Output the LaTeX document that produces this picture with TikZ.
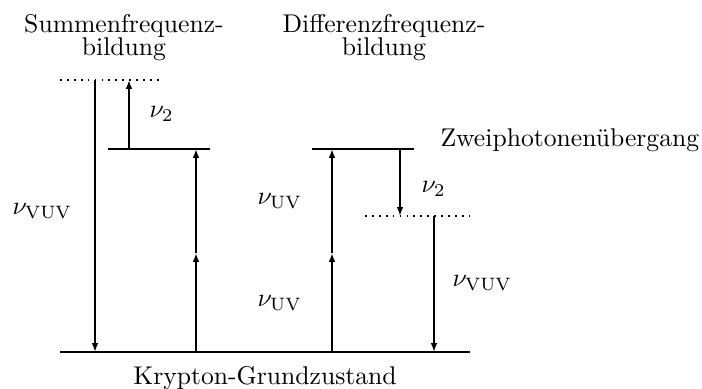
\documentclass[tikz,border=0pt]{standalone}
\usetikzlibrary{arrows.meta}
\begin{document}
\begin{tikzpicture}[x=0.39pt,y=-0.39pt,
  level/.style={line width=0.8pt},
  virt/.style={line width=0.7pt,dotted},
  photon/.style={line width=0.6pt,-{Latex[length=3.5pt,width=2.6pt]}},
  lbl/.style={anchor=base,inner sep=0pt,font=\fontsize{10}{12}\selectfont}]
\useasboundingbox (0,0) rectangle (702,389);
% levels
\coordinate (g1) at (60,352); \coordinate (g2) at (470,352);
\coordinate (a1) at (108,149); \coordinate (a2) at (210,149);
\coordinate (b1) at (312,149); \coordinate (b2) at (414,149);
\coordinate (s1) at (60,80); \coordinate (s2) at (163,80);
\coordinate (d1) at (365,216); \coordinate (d2) at (470,216);
\draw[level] (g1) -- (g2);
\draw[level] (a1) -- (a2);
\draw[level] (b1) -- (b2);
\draw[virt] (s1) -- (s2);
\draw[virt] (d1) -- (d2);
% photons left
\coordinate (vl0) at (95,80); \coordinate (vl1) at (95,352);
\draw[photon] (vl0) -- (vl1);
\coordinate (n0) at (129,149); \coordinate (n1) at (129,80);
\draw[photon] (n0) -- (n1);
\coordinate (u0) at (196,352); \coordinate (um) at (196,253); \coordinate (u1) at (196,149);
\draw[photon] (u0) -- (um);
\draw[photon] (um) -- (u1);
% photons right
\coordinate (r0) at (332,352); \coordinate (rm) at (332,253); \coordinate (r1) at (332,149);
\draw[photon] (r0) -- (rm);
\draw[photon] (rm) -- (r1);
\coordinate (m0) at (400,149); \coordinate (m1) at (400,216);
\draw[photon] (m0) -- (m1);
\coordinate (w0) at (434,216); \coordinate (w1) at (434,352);
\draw[photon] (w0) -- (w1);
% labels
\node[lbl] (t1a) at (124,33) {Summenfrequenz-};
\node[lbl] (t1b) at (124,56) {bildung};
\node[lbl] (t2a) at (384,33) {Differenzfrequenz-};
\node[lbl] (t2b) at (384,56) {bildung};
\node[lbl,anchor=base west] (zw) at (440,147) {Zweiphotonen\"ubergang};
\node[lbl,anchor=base west] (nvl) at (12,215) {$\nu_{\mathrm{VUV}}$};
\node[lbl,anchor=base west] (n2l) at (149,118) {$\nu_2$};
\node[lbl,anchor=base west] (nu1) at (257,205) {$\nu_{\mathrm{UV}}$};
\node[lbl,anchor=base west] (nu2) at (257,307) {$\nu_{\mathrm{UV}}$};
\node[lbl,anchor=base west] (n2r) at (421,193) {$\nu_2$};
\node[lbl,anchor=base west] (nvr) at (452,287) {$\nu_{\mathrm{VUV}}$};
\node[lbl] (kr) at (265,385) {Krypton-Grundzustand};
\end{tikzpicture}
\end{document}
